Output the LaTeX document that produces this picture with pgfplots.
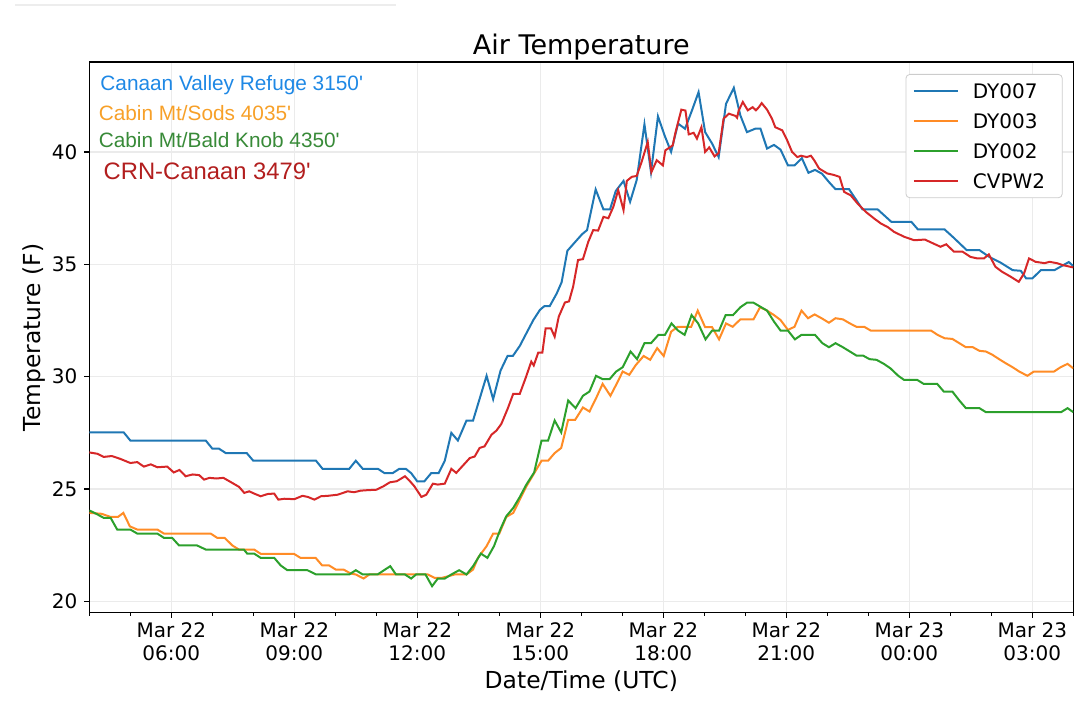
\documentclass[border=0pt]{standalone}
\usepackage{fontspec}
\setmainfont{DejaVu Sans}
\newfontfamily\annfont{Liberation Sans}
\usepackage{pgfplots}
\pgfplotsset{compat=1.18}
\definecolor{tabblue}{HTML}{1F77B4}
\definecolor{taborange}{HTML}{FF7F0E}
\definecolor{tabgreen}{HTML}{2CA02C}
\definecolor{tabred}{HTML}{D62728}
\definecolor{annblue}{RGB}{30,136,229}
\definecolor{annorange}{RGB}{247,160,40}
\definecolor{anngreen}{RGB}{56,138,56}
\definecolor{annred}{RGB}{178,30,30}
\newcommand{\lt}[1]{\makebox[39.2pt][l]{#1}}
\begin{document}
\begin{tikzpicture}
\useasboundingbox (0pt,0pt) rectangle (540pt,352.5pt);
\draw[black!7, line width=1pt] (7.5pt,350pt) -- (198pt,350pt);
\begin{axis}[
  at={(44.65pt,46.15pt)}, anchor=south west,
  scale only axis, width=492pt, height=275.35pt,
  xmin=4, xmax=28, ymin=19.5, ymax=44,
  xtick={6,9,12,15,18,21,24,27},
  xticklabels={{Mar 22\\06:00},{Mar 22\\09:00},{Mar 22\\12:00},{Mar 22\\15:00},{Mar 22\\18:00},{Mar 22\\21:00},{Mar 23\\00:00},{Mar 23\\03:00}},
  minor xtick={4,5,7,8,10,11,13,14,16,17,19,20,22,23,25,26,28},
  ytick={20,25,30,35,40},
  tick align=outside, tick pos=left,
  major tick length=2.5pt, minor tick length=1.5pt,
  tick style={black, line width=0.6pt},
  grid=major,
  major grid style={line width=0.7pt, draw=black!8},
  axis line style={line width=0.6pt, black},
  /pgf/number format/assume math mode=true,
  ticklabel style={font=\fontsize{10}{11.5}\selectfont},
  xticklabel style={align=center, yshift=1pt},
  title={Air Temperature},
  title style={font=\fontsize{13.5}{16}\selectfont, at={(axis description cs:0.5,1)}, anchor=base, yshift=-2.5pt},
  xlabel={Date/Time (UTC)},
  xlabel style={font=\fontsize{11.7}{14}\selectfont, at={(axis description cs:0.5,-0.1344)}, anchor=base, yshift=-1pt},
  ylabel={Temperature (F)},
  ylabel style={font=\fontsize{11.7}{14}\selectfont, at={(axis description cs:-0.0562,0.5)}, anchor=center},
  legend style={at={(1,1)}, anchor=north east, xshift=-5.3pt, yshift=-6pt,
    draw=black!20, rounded corners=2pt, font=\fontsize{10}{12}\selectfont,
    inner xsep=3.5pt, inner ysep=2.7pt, row sep=3.7pt,
    nodes={inner sep=2pt, text height=7.3pt, text depth=0pt},
    /tikz/every odd column/.append style={column sep=5pt}},
  legend cell align=left,
  legend image code/.code={\draw[#1] (0pt,0pt) -- (22pt,0pt);},
]
\addplot[tabblue, line width=1pt] coordinates {
(4.0,27.52)(4.84,27.52)(5.0,27.16)(6.84,27.16)(7.0,26.8)(7.16,26.8)(7.33,26.6)(7.84,26.6)
(8.0,26.26)(9.53,26.26)(9.69,25.9)(10.34,25.9)(10.5,26.26)(10.67,25.9)(11.04,25.9)(11.2,25.71)
(11.4,25.71)(11.56,25.9)(11.72,25.9)(11.85,25.71)(12.0,25.34)(12.17,25.34)(12.34,25.71)(12.52,25.71)
(12.67,26.26)(12.83,27.5)(12.99,27.16)(13.2,28.05)(13.36,28.05)(13.69,30.04)(13.85,29.0)(14.03,30.27)
(14.2,30.92)(14.33,30.92)(14.5,31.37)(14.66,31.93)(14.83,32.52)(14.99,32.97)(15.1,33.14)(15.23,33.14)
(15.4,33.7)(15.52,34.2)(15.66,35.6)(15.82,35.93)(16.02,36.34)(16.14,36.52)(16.35,38.33)(16.54,37.44)
(16.7,37.44)(16.84,38.26)(17.03,38.71)(17.19,37.78)(17.35,38.74)(17.54,41.23)(17.7,39.1)(17.87,41.58)
(18.03,40.74)(18.19,40.0)(18.36,41.26)(18.53,41.03)(18.7,41.85)(18.86,42.66)(19.02,40.88)(19.19,40.37)
(19.35,39.77)(19.53,42.14)(19.72,42.85)(19.88,41.62)(20.04,40.88)(20.24,41.03)(20.37,41.03)(20.53,40.15)
(20.7,40.31)(20.86,40.1)(21.04,39.4)(21.2,39.4)(21.38,39.72)(21.54,39.07)(21.7,39.2)(21.87,39.03)
(22.04,38.66)(22.2,38.34)(22.53,38.34)(22.7,37.88)(22.86,37.44)(23.23,37.44)(23.56,36.89)(24.05,36.89)
(24.21,36.55)(24.86,36.55)(25.06,36.22)(25.4,35.63)(25.71,35.63)(25.95,35.33)(26.23,35.07)(26.52,34.74)
(26.72,34.71)(26.85,34.37)(27.0,34.37)(27.21,34.74)(27.54,34.74)(27.89,35.1)(28.0,34.92)
};
\addlegendentry{\lt{DY007}}
\addplot[taborange, line width=1pt, opacity=0.9] coordinates {
(4.0,23.94)(4.3,23.9)(4.52,23.76)(4.7,23.76)(4.83,23.94)(4.99,23.34)(5.17,23.2)(5.66,23.2)
(5.82,23.02)(6.96,23.02)(7.12,22.83)(7.3,22.83)(7.49,22.49)(7.65,22.31)(8.02,22.31)(8.18,22.12)
(8.99,22.12)(9.15,21.94)(9.52,21.94)(9.68,21.6)(9.85,21.6)(10.01,21.42)(10.2,21.42)(10.38,21.24)
(10.5,21.2)(10.69,21.02)(10.83,21.2)(12.26,21.2)(12.42,21.05)(12.6,21.05)(12.75,21.12)(12.91,21.2)
(13.2,21.2)(13.36,21.42)(13.48,21.94)(13.69,22.46)(13.85,23.02)(14.0,23.02)(14.17,23.76)(14.34,23.94)
(14.5,24.53)(14.66,25.12)(14.83,25.64)(15.03,26.26)(15.19,26.26)(15.35,26.6)(15.51,26.83)(15.68,28.08)
(15.85,28.08)(16.04,28.63)(16.2,28.45)(16.36,29.04)(16.52,29.68)(16.71,29.15)(16.87,29.71)(17.01,30.23)
(17.17,30.08)(17.33,30.52)(17.52,30.92)(17.68,30.75)(17.85,31.27)(18.01,30.92)(18.19,32.0)(18.35,32.22)
(18.68,32.22)(18.84,32.94)(19.02,32.2)(19.19,32.2)(19.36,31.66)(19.53,32.37)(19.69,32.22)(19.88,32.55)
(20.2,32.55)(20.36,33.09)(20.53,32.94)(20.7,32.74)(20.86,32.52)(21.04,32.08)(21.2,32.22)(21.37,32.94)
(21.53,32.6)(21.69,32.77)(21.86,32.6)(22.04,32.4)(22.2,32.6)(22.38,32.55)(22.55,32.37)(22.71,32.22)
(22.9,32.22)(23.06,32.05)(24.53,32.05)(24.69,31.86)(24.86,31.71)(25.05,31.68)(25.22,31.49)(25.38,31.31)
(25.55,31.31)(25.71,31.15)(25.87,31.12)(26.03,30.97)(26.19,30.78)(26.35,30.6)(26.52,30.42)(26.68,30.23)
(26.88,30.04)(27.04,30.23)(27.53,30.23)(27.69,30.42)(27.86,30.57)(28.0,30.37)
};
\addlegendentry{\lt{DY003}}
\addplot[tabgreen, line width=1pt] coordinates {
(4.0,24.05)(4.17,23.9)(4.35,23.72)(4.52,23.72)(4.68,23.2)(5.0,23.2)(5.17,23.02)(5.66,23.02)
(5.82,22.83)(6.02,22.83)(6.19,22.49)(6.63,22.49)(6.84,22.31)(7.77,22.31)(7.85,22.13)(8.02,22.13)
(8.18,21.94)(8.51,21.94)(8.67,21.6)(8.83,21.39)(9.32,21.39)(9.53,21.2)(10.34,21.2)(10.5,21.39)
(10.67,21.2)(11.03,21.2)(11.34,21.57)(11.48,21.2)(11.7,21.2)(11.85,21.02)(11.97,21.2)(12.2,21.2)
(12.36,20.68)(12.5,21.02)(12.67,21.02)(12.83,21.2)(13.02,21.39)(13.2,21.2)(13.36,21.57)(13.55,22.13)
(13.71,21.94)(13.87,22.46)(14.03,23.23)(14.17,23.79)(14.34,24.16)(14.5,24.65)(14.66,25.2)(14.85,25.74)
(15.03,27.16)(15.19,27.16)(15.35,28.05)(15.51,27.52)(15.68,28.94)(15.86,28.6)(16.04,29.15)(16.2,29.34)
(16.36,30.04)(16.52,29.89)(16.69,29.89)(16.85,30.23)(17.01,30.42)(17.2,31.12)(17.36,30.78)(17.54,31.49)
(17.7,31.49)(17.88,31.86)(18.04,31.86)(18.2,32.37)(18.36,32.05)(18.52,31.86)(18.69,32.74)(18.85,32.37)
(19.03,31.66)(19.19,32.05)(19.36,32.05)(19.52,32.74)(19.7,32.74)(19.88,33.09)(20.04,33.29)(20.2,33.29)
(20.37,33.11)(20.53,32.94)(20.7,32.45)(20.86,32.05)(21.04,32.05)(21.21,31.66)(21.37,31.86)(21.7,31.86)
(21.88,31.49)(22.04,31.31)(22.2,31.49)(22.38,31.31)(22.55,31.12)(22.71,30.94)(22.87,30.94)(23.03,30.78)
(23.2,30.75)(23.38,30.57)(23.54,30.37)(23.73,30.04)(23.87,29.86)(24.19,29.86)(24.35,29.68)(24.68,29.68)
(24.84,29.34)(25.05,29.34)(25.22,28.94)(25.38,28.6)(25.71,28.6)(25.87,28.42)(27.7,28.42)(27.86,28.6)
(28.0,28.42)
};
\addlegendentry{\lt{DY002}}
\addplot[tabred, line width=1pt] coordinates {
(4.0,26.63)(4.2,26.57)(4.35,26.43)(4.55,26.47)(4.76,26.34)(5.0,26.16)(5.17,26.2)(5.33,26.0)
(5.5,26.1)(5.66,25.97)(5.9,26.0)(6.06,25.74)(6.2,25.85)(6.35,25.57)(6.52,25.65)(6.68,25.62)
(6.8,25.42)(6.93,25.5)(7.1,25.47)(7.27,25.5)(7.49,25.27)(7.65,25.1)(7.78,24.83)(7.9,24.9)
(8.02,24.8)(8.18,24.68)(8.35,24.78)(8.51,24.8)(8.61,24.53)(8.76,24.57)(9.0,24.55)(9.2,24.7)
(9.33,24.65)(9.49,24.53)(9.65,24.68)(9.82,24.7)(10.06,24.75)(10.3,24.9)(10.46,24.86)(10.62,24.93)
(10.78,24.95)(11.0,24.97)(11.17,25.12)(11.33,25.3)(11.5,25.35)(11.7,25.57)(11.82,25.35)(11.93,25.12)
(12.1,24.65)(12.22,24.75)(12.38,25.24)(12.5,25.2)(12.67,25.24)(12.83,25.9)(12.95,25.72)(13.11,26.04)
(13.28,26.38)(13.4,26.45)(13.52,26.83)(13.64,26.9)(13.81,27.42)(13.93,27.6)(14.05,27.9)(14.21,28.6)
(14.34,29.24)(14.5,29.24)(14.64,29.93)(14.78,30.67)(14.84,30.5)(14.95,31.07)(15.05,31.07)(15.13,32.15)
(15.26,32.15)(15.35,31.78)(15.45,32.67)(15.6,33.3)(15.7,33.35)(15.8,34.0)(15.92,35.19)(16.04,35.23)
(16.17,36.0)(16.29,36.52)(16.41,36.5)(16.54,37.11)(16.66,37.05)(16.78,37.55)(16.9,38.3)(17.03,37.41)
(17.11,38.71)(17.23,38.89)(17.35,38.93)(17.47,39.55)(17.62,40.44)(17.71,39.1)(17.84,39.63)(17.99,39.4)
(18.05,40.07)(18.23,40.29)(18.29,40.81)(18.44,41.88)(18.54,41.84)(18.62,40.78)(18.74,40.85)(18.82,40.59)
(18.93,41.1)(19.02,40.0)(19.12,40.2)(19.25,39.8)(19.35,39.95)(19.47,41.48)(19.6,41.7)(19.76,41.6)
(19.8,41.52)(19.84,41.85)(19.94,42.22)(20.06,41.85)(20.18,41.99)(20.26,41.85)(20.33,41.99)(20.4,42.17)
(20.53,41.88)(20.65,41.48)(20.73,41.1)(20.9,40.96)(21.02,40.52)(21.14,40.0)(21.27,39.77)(21.36,39.83)
(21.5,39.77)(21.6,39.83)(21.68,39.63)(21.8,39.26)(22.0,39.04)(22.15,38.98)(22.3,38.89)(22.41,38.22)
(22.57,38.07)(22.74,37.7)(22.94,37.33)(23.14,37.04)(23.31,36.81)(23.47,36.66)(23.63,36.44)(23.88,36.22)
(24.12,36.07)(24.38,36.1)(24.58,35.93)(24.76,35.78)(24.9,35.89)(25.09,35.56)(25.3,35.56)(25.49,35.33)
(25.66,35.26)(25.82,35.26)(25.94,35.44)(26.1,34.89)(26.26,34.67)(26.47,34.45)(26.67,34.22)(26.8,34.6)
(26.92,35.26)(27.08,35.11)(27.3,35.05)(27.42,35.11)(27.6,35.05)(27.75,34.96)(28.0,34.86)
};
\addlegendentry{\lt{CVPW2}}
\node[anchor=west, inner sep=0pt, text=annblue, font=\annfont\fontsize{10.4}{12}\selectfont] at (rel axis cs:0.0109,0.958) {Canaan Valley Refuge 3150'};
\node[anchor=west, inner sep=0pt, text=annorange, font=\annfont\fontsize{10.4}{12}\selectfont] at (rel axis cs:0.0092,0.9075) {Cabin Mt/Sods 4035'};
\node[anchor=west, inner sep=0pt, text=anngreen, font=\annfont\fontsize{10.4}{12}\selectfont] at (rel axis cs:0.0092,0.8585) {Cabin Mt/Bald Knob 4350'};
\node[anchor=west, inner sep=0pt, text=annred, font=\annfont\fontsize{11.9}{14}\selectfont] at (rel axis cs:0.0142,0.801) {CRN-Canaan 3479'};
\end{axis}
\end{tikzpicture}
\end{document}
